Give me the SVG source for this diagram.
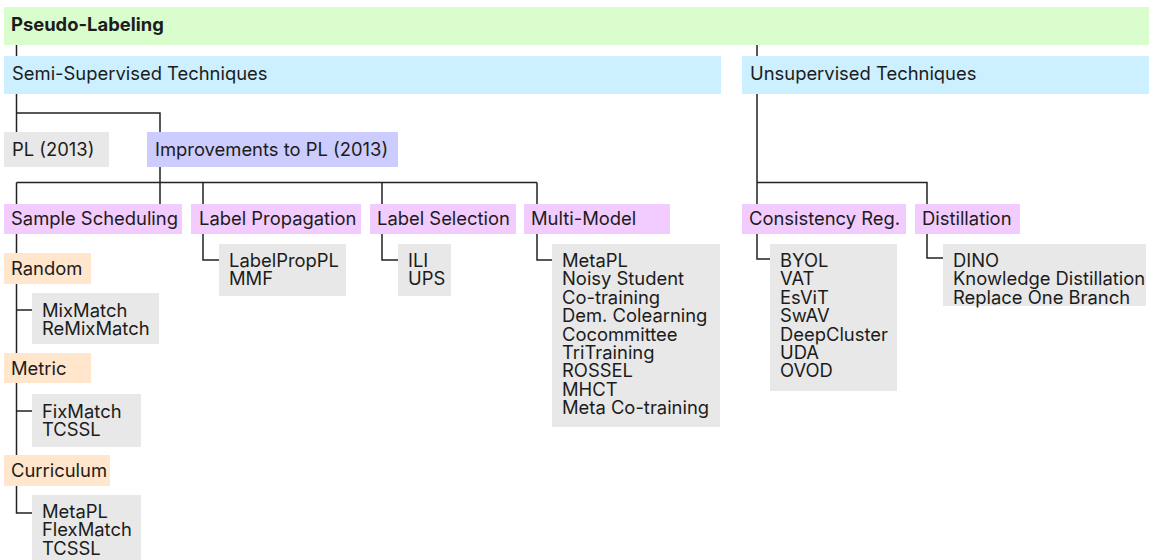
<svg xmlns="http://www.w3.org/2000/svg" width="1149" height="560" viewBox="0 0 1149 560">
<style>
text{font-family:Inter,"Liberation Sans",sans-serif;font-size:18.4px;fill:#1c1c1c}
.b{font-weight:bold}
.g{fill:#d9fdcd}.s{fill:#ccf0ff}.v{fill:#ccccfe}.p{fill:#f3ccff}.o{fill:#ffe6cc}.k{fill:#e8e8e8}
.c path{fill:none;stroke:#222;stroke-width:1.5}
</style>
<rect width="1149" height="560" fill="#fff"/>
<g class="c">
<path d="M16.5 45V56M757 45V56"/>
<path d="M16.5 94V132M16.5 113H160V132"/>
<path d="M160 167V204M16.5 182.5H537M16.5 182.5V204M203 182.5V204M382 182.5V204M537 182.5V204"/>
<path d="M16.5 234V455M16.5 310H32M16.5 411H32M16.5 486V513H32"/>
<path d="M203 234V260H219M382 234V260H398M537 234V260H552"/>
<path d="M757 94V204M757 182.5H927V204M757 234V259H770M927 234V258H943"/>
</g>
<g id="pseudo"><rect class="g" x="4" y="7" width="1145" height="38"/><text class="b" x="11" y="31">Pseudo-Labeling</text></g>
<g id="semi"><rect class="s" x="4" y="56" width="717" height="38"/><text x="12" y="80">Semi-Supervised Techniques</text></g>
<g id="unsup"><rect class="s" x="742" y="56" width="407" height="38"/><text x="750" y="80">Unsupervised Techniques</text></g>
<g id="pl"><rect class="k" x="4" y="132" width="105" height="35"/><text x="12" y="156">PL (2013)</text></g>
<g id="improv"><rect class="v" x="147" y="132" width="251" height="35"/><text x="155" y="156">Improvements to PL (2013)</text></g>
<g id="sched"><rect class="p" x="4" y="204" width="178" height="30"/><text x="11" y="225">Sample Scheduling</text></g>
<g id="lprop"><rect class="p" x="191" y="204" width="170" height="30"/><text x="199" y="225">Label Propagation</text></g>
<g id="lsel"><rect class="p" x="370" y="204" width="146" height="30"/><text x="377" y="225">Label Selection</text></g>
<g id="multi"><rect class="p" x="524" y="204" width="146" height="30"/><text x="531" y="225">Multi-Model</text></g>
<g id="cons"><rect class="p" x="742" y="204" width="164" height="30"/><text x="749" y="225">Consistency Reg.</text></g>
<g id="dist"><rect class="p" x="915" y="204" width="105" height="30"/><text x="922" y="225">Distillation</text></g>
<g id="random"><rect class="o" x="4" y="253" width="87" height="31"/><text x="11" y="275">Random</text></g>
<g id="metric"><rect class="o" x="4" y="353" width="87" height="30"/><text x="11" y="375">Metric</text></g>
<g id="curric"><rect class="o" x="4" y="455" width="106" height="31"/><text x="11" y="477">Curriculum</text></g>
<g id="random-list"><rect class="k" x="32" y="293" width="127" height="51"/><text x="42" y="317">MixMatch<tspan x="42" dy="18.4">ReMixMatch</tspan></text></g>
<g id="metric-list"><rect class="k" x="32" y="394" width="109" height="53"/><text x="42" y="418">FixMatch<tspan x="42" dy="18.4">TCSSL</tspan></text></g>
<g id="curric-list"><rect class="k" x="32" y="495" width="109" height="70"/><text x="42" y="518">MetaPL<tspan x="42" dy="18.4">FlexMatch</tspan><tspan x="42" dy="18.4">TCSSL</tspan></text></g>
<g id="lprop-list"><rect class="k" x="219" y="244" width="127" height="52"/><text x="229" y="267">LabelPropPL<tspan x="229" dy="18.4">MMF</tspan></text></g>
<g id="lsel-list"><rect class="k" x="398" y="244" width="53" height="52"/><text x="408" y="267">ILI<tspan x="408" dy="18.4">UPS</tspan></text></g>
<g id="multi-list"><rect class="k" x="552" y="244" width="168" height="183"/><text x="562" y="267">MetaPL<tspan x="562" dy="18.4">Noisy Student</tspan><tspan x="562" dy="18.4">Co-training</tspan><tspan x="562" dy="18.4">Dem. Colearning</tspan><tspan x="562" dy="18.4">Cocommittee</tspan><tspan x="562" dy="18.4">TriTraining</tspan><tspan x="562" dy="18.4">ROSSEL</tspan><tspan x="562" dy="18.4">MHCT</tspan><tspan x="562" dy="18.4">Meta Co-training</tspan></text></g>
<g id="cons-list"><rect class="k" x="770" y="244" width="127" height="147"/><text x="780" y="267">BYOL<tspan x="780" dy="18.4">VAT</tspan><tspan x="780" dy="18.4">EsViT</tspan><tspan x="780" dy="18.4">SwAV</tspan><tspan x="780" dy="18.4">DeepCluster</tspan><tspan x="780" dy="18.4">UDA</tspan><tspan x="780" dy="18.4">OVOD</tspan></text></g>
<g id="dist-list"><rect class="k" x="943" y="244" width="203" height="62"/><text x="953" y="267">DINO<tspan x="953" dy="18.4">Knowledge Distillation</tspan><tspan x="953" dy="18.4">Replace One Branch</tspan></text></g>
</svg>
